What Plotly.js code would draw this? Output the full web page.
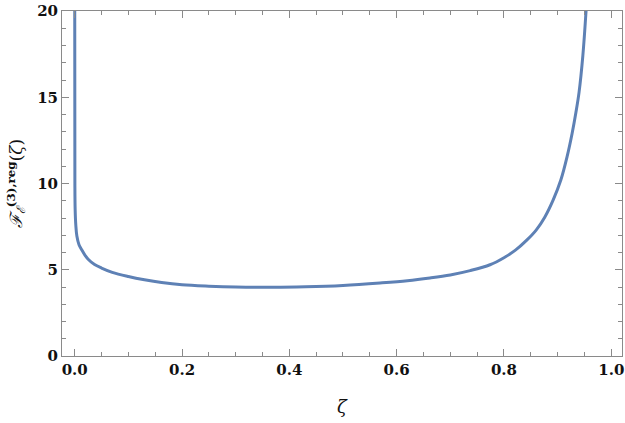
<!DOCTYPE html>
<html>
<head>
<script src="https://cdn.plot.ly/plotly-3.0.1.min.js"></script>
<style>html,body{margin:0;padding:0;background:#fff;}</style>
</head>
<body>
<div id="chart" style="width:625px;height:423px;"></div>
<script>
var zeta = [0.00005, 0.0003, 0.0008, 0.002, 0.004, 0.008, 0.013, 0.019, 0.026, 0.037, 0.05, 0.07, 0.1, 0.13, 0.162, 0.2, 0.25, 0.3, 0.37, 0.43, 0.5, 0.569, 0.62, 0.662, 0.7, 0.737, 0.774, 0.8, 0.822, 0.842, 0.86, 0.876, 0.892, 0.906, 0.918, 0.927, 0.934, 0.94, 0.947, 0.953];
var freg = [20, 10.0, 8.5, 7.6, 6.95, 6.45, 6.16, 5.85, 5.58, 5.3, 5.1, 4.85, 4.61, 4.42, 4.26, 4.13, 4.05, 4.0, 3.98, 4.01, 4.09, 4.23, 4.36, 4.52, 4.7, 4.95, 5.29, 5.7, 6.15, 6.7, 7.3, 8.05, 9.07, 10.2, 11.6, 12.9, 14.1, 15.3, 17.4, 20];
var xTicks = [0, 0.2, 0.4, 0.6, 0.8, 1.0];
var xTickText = ['0.0', '0.2', '0.4', '0.6', '0.8', '1.0'];
var yTicks = [0, 5, 10, 15, 20];
var yTickText = ['0', '5', '10', '15', '20'];

var fontFam = 'DejaVu Serif';
var trace = {
  x: zeta, y: freg, type: 'scatter', mode: 'lines',
  line: {color: '#5e81b5', width: 3, shape: 'spline', smoothing: 1},
  cliponaxis: true, hoverinfo: 'none'
};
var axBase = {
  showgrid: false, zeroline: false, showline: true, linecolor: '#8a8a8a', linewidth: 1,
  mirror: 'allticks', ticks: 'inside', ticklen: 7, tickcolor: '#8a8a8a', tickwidth: 1,
  ticklabeloverflow: 'allow',
  tickfont: {family: fontFam, size: 15, color: '#111', weight: 'bold'}
};
var layout = {
  width: 625, height: 423,
  margin: {l: 62, r: 3, t: 11, b: 67},
  paper_bgcolor: '#fff', plot_bgcolor: '#fff',
  font: {family: fontFam, color: '#111'},
  showlegend: false,
  xaxis: Object.assign({}, axBase, {
    range: [-0.0237, 1.02], tickmode: 'array', tickvals: xTicks, ticktext: xTickText,
    minor: {dtick: 0.05, tick0: 0, ticks: 'inside', ticklen: 4, tickcolor: '#8a8a8a', tickwidth: 1},
    title: {text: '<i>ζ</i>', font: {family: fontFam, size: 18, color: '#111'}, standoff: 22}
  }),
  yaxis: Object.assign({}, axBase, {
    range: [0, 20], tickmode: 'array', tickvals: yTicks, ticktext: yTickText,
    minor: {dtick: 1, tick0: 0, ticks: 'inside', ticklen: 4, tickcolor: '#8a8a8a', tickwidth: 1},
    title: {text: '<i>ℱ</i><sub><i>ℰ</i></sub><sup><b>(3),reg</b></sup>(<i>ζ</i>)', font: {family: fontFam, size: 17, color: '#111'}, standoff: 10}
  })
};
Plotly.newPlot('chart', [trace], layout, {staticPlot: true, displayModeBar: false});
</script>
</body>
</html>
